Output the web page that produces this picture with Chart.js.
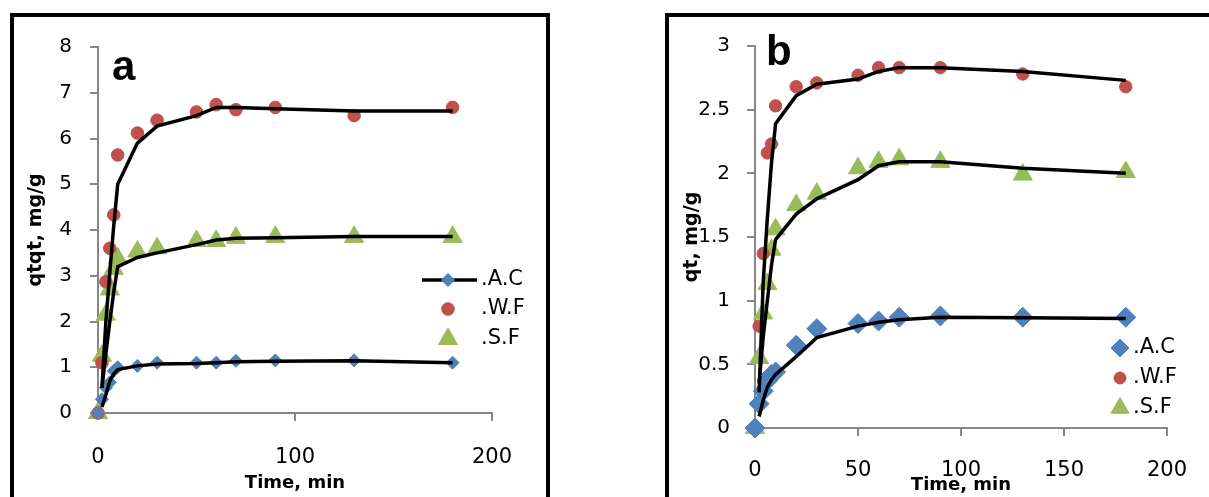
<!DOCTYPE html>
<html>
<head>
<meta charset="utf-8">
<script src="https://cdn.jsdelivr.net/npm/chart.js@4/dist/chart.umd.min.js"></script>
<style>
  body { margin: 0; background: #fff; width: 1209px; height: 497px; overflow: hidden; position: relative; }
  .frame { position: absolute; border: 4px solid #000; box-sizing: border-box; }
  canvas { position: absolute; }
</style>
</head>
<body>
<div class="frame" style="left:10px;top:13px;width:540px;height:530px"></div>
<div class="frame" style="left:665px;top:13px;width:580px;height:530px"></div>
<canvas id="chartA" width="532" height="480" style="left:14px;top:17px"></canvas>
<canvas id="chartB" width="540" height="480" style="left:669px;top:17px"></canvas>
<script>
/* === Data === */
const seriesNames = ['.A.C', '.W.F', '.S.F'];
const times    = [0, 2, 4, 6, 8, 10, 20, 30, 50, 60, 70, 90, 130, 180];
const fitTimes = [2, 4, 6, 8, 10, 20, 30, 50, 60, 70, 90, 130, 180];

// panel a
const acA    = [0, 0.3, 0.55, 0.67, 0.92, 1.0, 1.03, 1.1, 1.1, 1.1, 1.14, 1.15, 1.15, 1.1];
const wfA    = [0, 1.1, 2.87, 3.6, 4.33, 5.64, 6.12, 6.4, 6.58, 6.74, 6.63, 6.68, 6.5, 6.68];
const sfA    = [0, 1.25, 2.15, 2.7, 3.15, 3.38, 3.53, 3.6, 3.76, 3.76, 3.83, 3.85, 3.85, 3.85];
const acFitA = [0.13, 0.4, 0.7, 0.85, 0.95, 1.03, 1.07, 1.08, 1.1, 1.12, 1.13, 1.14, 1.1];
const wfFitA = [0.55, 2.0, 3.07, 4.1, 5.0, 5.9, 6.27, 6.5, 6.68, 6.68, 6.65, 6.6, 6.6];
const sfFitA = [0.55, 1.3, 2.0, 2.65, 3.2, 3.4, 3.5, 3.68, 3.78, 3.82, 3.83, 3.86, 3.86];

// panel b
const acB    = [0, 0.19, 0.29, 0.37, 0.42, 0.44, 0.65, 0.78, 0.82, 0.84, 0.87, 0.88, 0.87, 0.87];
const wfB    = [0, 0.8, 1.37, 2.16, 2.23, 2.53, 2.68, 2.71, 2.77, 2.83, 2.83, 2.83, 2.78, 2.68];
const sfB    = [0, 0.55, 0.9, 1.13, 1.4, 1.56, 1.75, 1.84, 2.04, 2.09, 2.11, 2.09, 1.99, 2.01];
const acFitB = [0.09, 0.22, 0.32, 0.38, 0.42, 0.56, 0.71, 0.8, 0.83, 0.85, 0.87, 0.865, 0.86];
const wfFitB = [0.28, 1.15, 1.65, 2.08, 2.39, 2.61, 2.7, 2.74, 2.8, 2.83, 2.83, 2.8, 2.73];
const sfFitB = [0.35, 0.72, 1.0, 1.28, 1.48, 1.68, 1.8, 1.95, 2.06, 2.09, 2.09, 2.04, 2.0];

/* === Styles === */
const BLUE = '#4F81BD', RED = '#C0504D', GREEN = '#9BBB59', GRAY = '#868686';

const pts = (xs, ys) => xs.map((x, i) => ({ x, y: ys[i] }));

function markers(label, ys, style, r, color) {
  return {
    label, data: pts(times, ys), showLine: false,
    pointStyle: style, pointRadius: r, pointBackgroundColor: color,
    pointBorderColor: color, pointBorderWidth: 1, clip: false, order: 1
  };
}
function fit(ys) {
  return {
    data: pts(fitTimes, ys), showLine: true, pointRadius: 0,
    borderColor: '#000', borderWidth: 3.5, tension: 0, clip: false, order: 0
  };
}

/* === Legend + panel letter === */
const sideLegend = {
  id: 'sideLegend',
  afterDraw(chart, args, o) {
    const ctx = chart.ctx;
    ctx.save();
    o.items.forEach(it => {
      if (it.line) {
        ctx.strokeStyle = '#000';
        ctx.lineWidth = 3.5;
        ctx.beginPath();
        ctx.moveTo(it.line[0], it.y);
        ctx.lineTo(it.line[1], it.y);
        ctx.stroke();
      }
      ctx.fillStyle = it.color;
      ctx.strokeStyle = it.color;
      ctx.lineWidth = 1;
      Chart.helpers.drawPoint(ctx, { pointStyle: it.style, radius: it.r, rotation: 0, borderWidth: 1 }, o.mx, it.y);
      ctx.fillStyle = '#000';
      ctx.font = '21px "DejaVu Sans"';
      ctx.textBaseline = 'middle';
      ctx.fillText(it.text, o.tx, it.y);
    });
    ctx.font = 'bold 42px "Liberation Sans"';
    ctx.textBaseline = 'alphabetic';
    ctx.fillStyle = '#000';
    ctx.fillText(o.letter, o.lx, o.ly);
    ctx.restore();
  }
};

function axes(o) {
  return {
    x: {
      type: 'linear', min: 0, max: 200,
      ticks: { stepSize: o.xStep, padding: o.xPad, color: '#000', font: { family: 'DejaVu Sans', size: 21 } },
      grid: {
        drawOnChartArea: false, tickLength: 8, lineWidth: 2,
        color: c => (c.tick && c.tick.value === 0) ? 'rgba(0,0,0,0)' : GRAY
      },
      border: { color: GRAY, width: 2 },
      title: {
        display: true, text: 'Time, min', color: '#000',
        font: { family: 'DejaVu Sans', size: 18, weight: 'bold' },
        padding: { top: 0, bottom: o.xTitlePad }
      },
      afterFit: s => { s.height = o.xH; }
    },
    y: {
      min: 0, max: o.yMax,
      ticks: {
        stepSize: o.yStep, padding: o.yPad, color: '#000',
        font: { family: 'DejaVu Sans', size: 20 },
        callback: v => String(v)
      },
      grid: { drawOnChartArea: false, tickLength: 8, lineWidth: 2, color: GRAY },
      border: { color: GRAY, width: 2 },
      title: {
        display: true, text: o.yTitle, color: '#000',
        font: { family: 'DejaVu Sans', size: 19, weight: 'bold' },
        padding: { top: o.yTitlePad, bottom: 0 }
      },
      afterFit: s => { s.width = o.yW; }
    }
  };
}

/* === Panel a === */
new Chart(document.getElementById('chartA'), {
  type: 'scatter',
  data: {
    datasets: [
      fit(acFitA), fit(wfFitA), fit(sfFitA),
      markers(seriesNames[0], acA, 'rectRot', 6.5, BLUE),
      markers(seriesNames[1], wfA, 'circle', 6.3, RED),
      markers(seriesNames[2], sfA, 'triangle', 11, GREEN)
    ]
  },
  options: {
    responsive: false, animation: false,
    layout: { padding: { left: 0, right: 54, top: 23, bottom: 0 } },
    scales: axes({ xStep: 100, xPad: 24, xTitlePad: 3, xH: 84, yMax: 8, yStep: 1, yPad: 18,
                   yTitle: 'qtqt, mg/g', yTitlePad: 11, yW: 84 }),
    plugins: {
      legend: { display: false }, tooltip: { enabled: false },
      sideLegend: {
        mx: 434, tx: 467, letter: 'a', lx: 98, ly: 63,
        items: [
          { text: seriesNames[0], y: 263, style: 'rectRot', r: 6.5, color: BLUE, line: [408, 463] },
          { text: seriesNames[1], y: 292, style: 'circle', r: 6.3, color: RED },
          { text: seriesNames[2], y: 322, style: 'triangle', r: 11, color: GREEN }
        ]
      }
    }
  },
  plugins: [sideLegend]
});

/* === Panel b === */
new Chart(document.getElementById('chartB'), {
  type: 'scatter',
  data: {
    datasets: [
      fit(acFitB), fit(wfFitB), fit(sfFitB),
      markers(seriesNames[0], acB, 'rectRot', 10, BLUE),
      markers(seriesNames[1], wfB, 'circle', 6.2, RED),
      markers(seriesNames[2], sfB, 'triangle', 11, GREEN)
    ]
  },
  options: {
    responsive: false, animation: false,
    layout: { padding: { left: 0, right: 29, top: 22, bottom: 0 } },
    scales: axes({ xStep: 50, xPad: 22, xTitlePad: 1, xH: 69, yMax: 3, yStep: 0.5, yPad: 17,
                   yTitle: 'qt, mg/g', yTitlePad: 12, yW: 86 }),
    plugins: {
      legend: { display: false }, tooltip: { enabled: false },
      sideLegend: {
        mx: 451, tx: 464, letter: 'b', lx: 97, ly: 48,
        items: [
          { text: seriesNames[0], y: 331, style: 'rectRot', r: 9, color: BLUE },
          { text: seriesNames[1], y: 361, style: 'circle', r: 6, color: RED },
          { text: seriesNames[2], y: 391, style: 'triangle', r: 10.5, color: GREEN }
        ]
      }
    }
  },
  plugins: [sideLegend]
});
</script>
</body>
</html>
